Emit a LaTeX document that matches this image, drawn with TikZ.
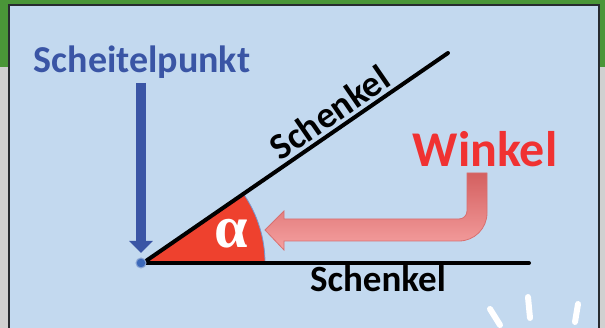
\documentclass[tikz,border=0pt]{standalone}
\usepackage{fontspec}
\setmainfont{Carlito}
\newfontfamily\greekfont{Liberation Serif}[BoldFont={Liberation Serif Bold}]
\usetikzlibrary{arrows.meta,positioning,calc}
\definecolor{bandgreen}{RGB}{74,150,56}
\definecolor{backgray}{RGB}{208,208,208}
\definecolor{panelblue}{RGB}{195,217,239}
\definecolor{tipblue}{RGB}{58,85,165}
\definecolor{dotblue}{RGB}{60,105,185}
\definecolor{wedgered}{RGB}{238,65,46}
\definecolor{labelred}{RGB}{240,50,50}
\definecolor{pinkdark}{RGB}{212,96,96}
\definecolor{pinklight}{RGB}{245,160,160}
\tikzset{%
  ray/.style={line width=4pt, line cap=round},
  label text/.style={font=\bfseries\fontsize{37}{37}\selectfont, inner sep=1pt},
  tick/.style={white, line width=6pt, line cap=round}
}

\begin{document}
\begin{tikzpicture}[x=1pt, y=1pt]
      \useasboundingbox (0, 0) rectangle (605, 328);
      % background and panel
      \fill[backgray] (0, 0) rectangle (605, 328);
      \fill[bandgreen] (0, 261) rectangle (605, 328);
      \begin{scope}
        \clip (0, 0) rectangle (605, 328);
        \draw[panelblue!20!black, line width=2pt, fill=panelblue] (9, -10) rectangle (599, 323);
      \end{scope}

      \coordinate (V) at (143, 65);
      \coordinate (U) at (448, 275);
      \coordinate (L) at (529, 65);

      % angle wedge
      \fill[wedgered] (V) -- ++(122, 0) arc [start angle=0, end angle=34.5, radius=122] -- cycle;
      \draw[dotblue!70, line width=0.8pt] ($(V)+(122,0)$) arc [start angle=0, end angle=34.5, radius=122];
      \node[text=white, font=\fontsize{60}{60}\greekfont\bfseries\selectfont] (alpha) at (231, 94) {α};

      % legs
      \draw[ray] (V) -- (U) node [pos=0.645, sloped, above=2pt, label text] (upper) {Schenkel};
      \draw[ray] (V) -- (L);
      \node[label text, anchor=base] (lower) at (378, 36) {Schenkel};

      % vertex
      \node[text=tipblue, font=\bfseries\fontsize{38}{38}\selectfont] (scheitel) at (142, 266) {Scheitelpunkt};
      \coordinate (tip) at (141, 75);
      \draw[tipblue, line width=10pt, -{Triangle[width=23pt, length=12pt]}] (141, 245) -- (tip);
      \node[circle, fill=dotblue, draw=dotblue!60!white, line width=1pt, inner sep=0pt, minimum size=10pt] (dot) at (141, 65) {};

      % angle label and arrow
      \node[text=labelred, font=\bfseries\fontsize{50}{50}\selectfont, anchor=base] (winkel) at (485, 161) {Winkel};
      \shade[top color=pinkdark, bottom color=pinklight, draw=pinkdark!90!white, line width=0.8pt]
        (467, 155) -- (487, 155) -- (487, 115) arc [start angle=0, end angle=-90, radius=28]
        -- (284, 87) -- (284, 78) -- (265, 98) -- (284, 117) -- (284, 109) -- (459, 109)
        arc [start angle=-90, end angle=0, radius=8] -- cycle;

      % rays in the corner
      \draw[tick] (490, 19) -- (500, 3);
      \draw[tick] (528, 31) -- (530, 10);
      \draw[tick] (578, 24) -- (575, 6);
\end{tikzpicture}
\end{document}
